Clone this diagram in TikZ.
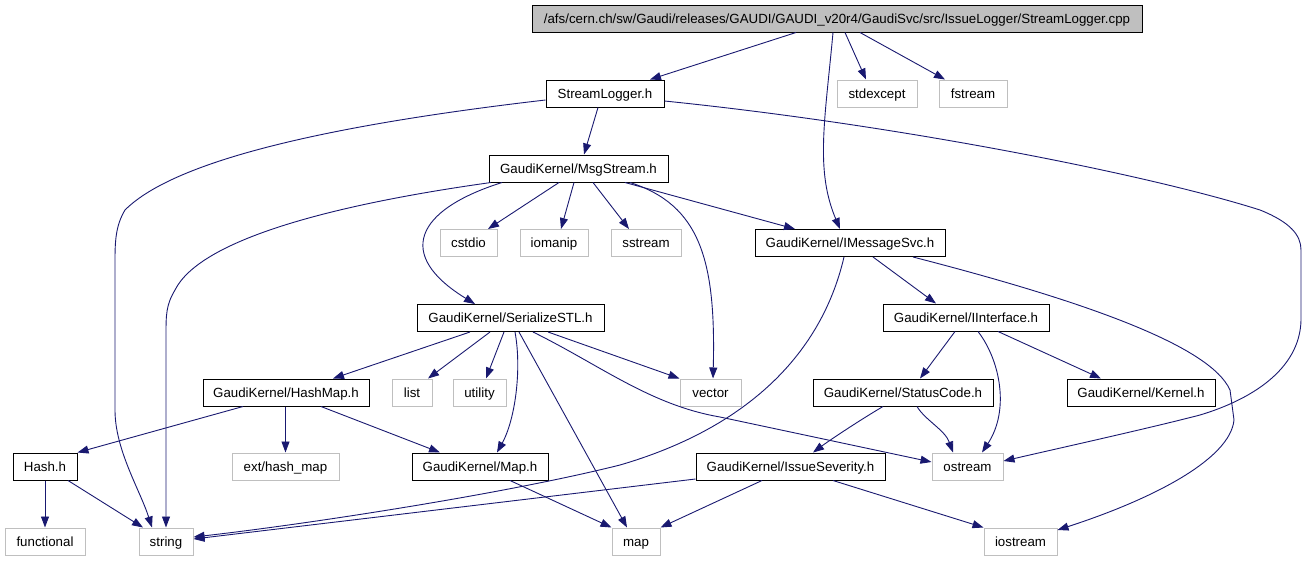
\documentclass[tikz,border=0pt]{standalone}
\usepackage{fontspec}
\setmainfont{Liberation Sans}
\usetikzlibrary{arrows.meta}
\definecolor{edgec}{HTML}{191970}
\definecolor{grayb}{HTML}{BFBFBF}
\begin{document}
\begin{tikzpicture}[x=1pt,y=-1pt,
  box/.style={draw=black, line width=1pt, fill=white, inner sep=0pt, minimum height=27pt, text height=10.5pt, text depth=0.7pt, font=\fontsize{13.3}{15}\selectfont},
  ext/.style={box, draw=grayb},
  e/.style={draw=edgec, line width=0.9pt, -{Triangle[length=11pt,width=8pt]}, fill=none}]
\useasboundingbox (0,0) rectangle (1306,560);
% nodes
\node[box, fill=grayb, minimum width=610pt] (top) at (837,18.5) {/afs/cern.ch/sw/Gaudi/releases/GAUDI/GAUDI\_v20r4/GaudiSvc/src/IssueLogger/StreamLogger.cpp};
\node[box, minimum width=118pt] (sl) at (605,93.5) {StreamLogger.h};
\node[ext, minimum width=80pt] (stdexcept) at (877,93.5) {stdexcept};
\node[ext, minimum width=68pt] (fstream) at (973,93.5) {fstream};
\node[box, minimum width=179pt] (ms) at (578.5,168.5) {GaudiKernel/MsgStream.h};
\node[ext, minimum width=57pt] (cstdio) at (468.5,243) {cstdio};
\node[ext, minimum width=68pt] (iomanip) at (554,243) {iomanip};
\node[ext, minimum width=70pt] (sstream) at (646,243) {sstream};
\node[box, minimum width=190pt] (ims) at (850,243) {GaudiKernel/IMessageSvc.h};
\node[box, minimum width=187pt] (sstl) at (510.5,318) {GaudiKernel/SerializeSTL.h};
\node[box, minimum width=166pt] (iif) at (966,317.5) {GaudiKernel/IInterface.h};
\node[box, minimum width=166pt] (hm) at (286,392.5) {GaudiKernel/HashMap.h};
\node[ext, minimum width=40pt] (list) at (412,392.5) {list};
\node[ext, minimum width=53pt] (utility) at (479.5,392.5) {utility};
\node[ext, minimum width=61pt] (vector) at (710.5,392.5) {vector};
\node[box, minimum width=180pt] (sc) at (903,392.5) {GaudiKernel/StatusCode.h};
\node[box, minimum width=148pt] (kern) at (1141,392.5) {GaudiKernel/Kernel.h};
\node[box, minimum width=64pt] (hash) at (45,466.5) {Hash.h};
\node[ext, minimum width=107pt] (ehm) at (285.5,466.5) {ext/hash\_map};
\node[box, minimum width=136pt] (maph) at (480,466.5) {GaudiKernel/Map.h};
\node[box, minimum width=189pt] (isev) at (790.5,466.5) {GaudiKernel/IssueSeverity.h};
\node[ext, minimum width=71pt] (ostream) at (967.5,466.5) {ostream};
\node[ext, minimum width=80pt] (functional) at (45,541.5) {functional};
\node[ext, minimum width=54pt] (string) at (166,541.5) {string};
\node[ext, minimum width=48pt] (map) at (636,541.5) {map};
\node[ext, minimum width=73pt] (iostream) at (1020.5,541.5) {iostream};
% edges
\draw[e] (top.south -| 796,0) -- (sl.north -| 650,0);
\draw[e] (top.south -| 833,0) .. controls (825,120) and (815,170) .. (ims.north -| 840,0);
\draw[e] (top.south -| 845,0) -- (stdexcept.north -| 866,0);
\draw[e] (top.south -| 860,0) -- (fstream.north -| 945,0);
\draw[e] (sl.south -| 598,0) -- (ms.north -| 584,0);
\draw[e] (sl.west |- 0,100) .. controls (330,125) and (175,160) .. (125,210) .. controls (116,225) and (115,240) .. (115,260) -- (115,410) .. controls (115,450) and (140,490) .. (string.north -| 152,0);
\draw[e] (sl.east |- 0,101) .. controls (900,125) and (1150,175) .. (1260,210) .. controls (1290,222) and (1301,235) .. (1301,250) -- (1301,320) .. controls (1300,370) and (1250,400) .. (1200,415) .. controls (1150,428) and (1060,448) .. (ostream.east |- 0,461);
\draw[e] (ms.south -| 491,0) .. controls (330,205) and (200,240) .. (175,290) .. controls (166,305) and (166,315) .. (166,335) -- (string.north -| 166,0);
\draw[e] (ms.south -| 502,0) .. controls (415,210) and (395,255) .. (sstl.north -| 475,0);
\draw[e] (ms.south -| 559,0) -- (cstdio.north -| 488,0);
\draw[e] (ms.south -| 574,0) -- (iomanip.north -| 561,0);
\draw[e] (ms.south -| 593,0) -- (sstream.north -| 629,0);
\draw[e] (ms.south -| 630,0) .. controls (700,205) and (716,260) .. (vector.north -| 713,0);
\draw[e] (ms.south -| 625,0) -- (ims.north -| 795,0);
\draw[e] (ims.south -| 844,0) .. controls (820,360) and (740,430) .. (620,465) .. controls (500,495) and (300,525) .. (string.east |- 0,537);
\draw[e] (ims.south -| 873,0) -- (iif.north -| 936,0);
\draw[e] (ims.south -| 913,0) .. controls (1080,300) and (1210,345) .. (1230,390) -- (1234,420) .. controls (1230,460) and (1150,500) .. (iostream.east |- 0,530);
\draw[e] (sstl.south -| 470,0) -- (hm.north -| 333,0);
\draw[e] (sstl.south -| 490,0) -- (list.north -| 428,0);
\draw[e] (sstl.south -| 504,0) -- (utility.north -| 486,0);
\draw[e] (sstl.south -| 515,0) .. controls (522,370) and (515,420) .. (maph.north -| 497,0);
\draw[e] (sstl.south -| 519,0) -- (map.north -| 627,0);
\draw[e] (sstl.south -| 548,0) -- (vector.north west);
\draw[e] (sstl.south -| 533,0) .. controls (600,365) and (650,405) .. (720,417) -- (ostream.west |- 0,462);
\draw[e] (hm.south -| 243,0) -- (hash.north east);
\draw[e] (hm.south -| 285.5,0) -- (ehm.north);
\draw[e] (hm.south -| 321,0) -- (maph.north -| 440,0);
\draw[e] (hash.south) -- (functional.north);
\draw[e] (hash.south -| 68,0) -- (string.north -| 143,0);
\draw[e] (maph.south -| 510,0) -- (map.north west);
\draw[e] (isev.south -| 762,0) -- (map.north east);
\draw[e] (isev.south -| 833,0) -- (iostream.north west);
\draw[e] (isev.west |- 0,479) -- (string.east |- 0,539);
\draw[e] (iif.south -| 955,0) -- (sc.north -| 920,0);
\draw[e] (iif.south -| 998,0) -- (kern.north -| 1101,0);
\draw[e] (iif.south -| 978,0) .. controls (1000,360) and (1010,410) .. (ostream.north -| 982,0);
\draw[e] (sc.south -| 917,0) .. controls (925,420) and (945,430) .. (ostream.north -| 953,0);
\draw[e] (sc.south -| 883,0) .. controls (860,420) and (830,440) .. (isev.north -| 813,0);
\end{tikzpicture}
\end{document}
